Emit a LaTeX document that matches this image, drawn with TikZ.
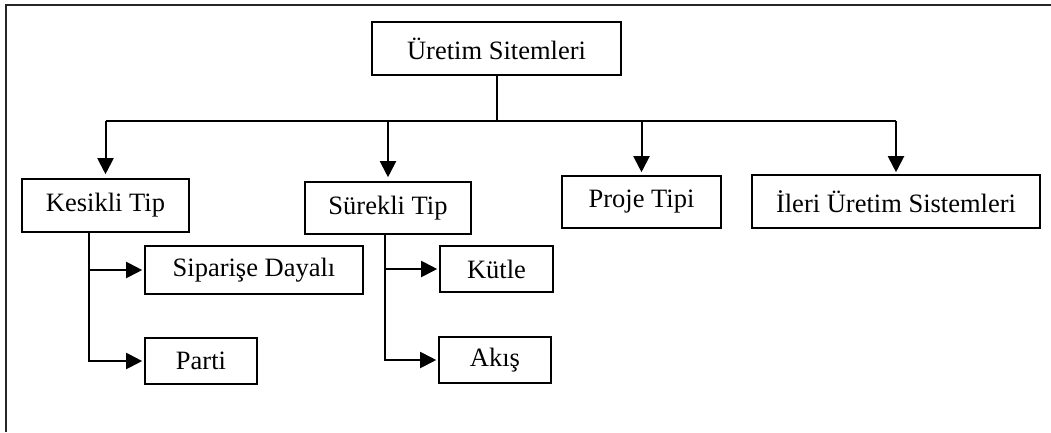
\documentclass[tikz,border=0pt]{standalone}
\usepackage{fontspec}
\setmainfont{Liberation Serif}
\usetikzlibrary{arrows.meta}

\begin{document}
\begin{tikzpicture}[x=1pt, y=-1pt,
  box/.style={draw, line width=1.6pt, inner sep=0pt, align=center,
              font=\fontsize{26.5}{30}\selectfont},
  link/.style={line width=2pt},
  arr/.style={link, -{Triangle[length=16pt, width=16pt]}}]
\useasboundingbox (0,0) rectangle (1051,432);

% outer frame (top and left edges)
\draw[line width=2pt, black!85] (6,432) -- (6,5) -- (1051,5);

% boxes
\node[box, minimum width=249pt, minimum height=53pt] (root) at (496.5,48.5) {Üretim Sitemleri};
\node[box, minimum width=167pt, minimum height=53pt] (kes) at (105.5,205.5) {Kesikli Tip};
\node[box, minimum width=166pt, minimum height=52pt] (sur) at (388,208) {Sürekli Tip};
\node[box, minimum width=159pt, minimum height=52pt] (pro) at (641.5,202) {Proje Tipi};
\node[box, minimum width=288pt, minimum height=53pt] (ile) at (896,201.5) {İleri Üretim Sistemleri};
\node[box, minimum width=218pt, minimum height=48pt] (sip) at (254,270) {Siparişe Dayalı};
\node[box, minimum width=112pt, minimum height=46pt] (par) at (201,361) {Parti};
\node[box, minimum width=113pt, minimum height=46pt] (kut) at (496.5,269) {Kütle};
\node[box, minimum width=112pt, minimum height=46pt] (aki) at (495,360) {Akış};

% distribution bar and trunk lines
\coordinate (bar) at (0,121);
\coordinate (kx) at (89,0);
\coordinate (sx) at (385,0);

\draw[link] (root.south) -- (root.south |- bar);
\draw[link] (kes.north |- bar) -- (ile.north |- bar);
\draw[arr, shorten >=4pt] (kes.north |- bar) -- (kes.north);
\draw[arr, shorten >=4pt] (sur.north |- bar) -- (sur.north);
\draw[arr, shorten >=3pt] (pro.north |- bar) -- (pro.north);
\draw[arr, shorten >=2pt] (ile.north |- bar) -- (ile.north);

% sub-branches of Kesikli Tip
\draw[arr, shorten >=2pt] (kes.south -| kx) |- (par.west);
\draw[arr, shorten >=2pt] (sip.west -| kx) -- (sip.west);

% sub-branches of Sürekli Tip
\draw[arr, shorten >=2pt] (sur.south -| sx) |- (aki.west);
\draw[arr, shorten >=2pt] (kut.west -| sx) -- (kut.west);
\end{tikzpicture}
\end{document}
